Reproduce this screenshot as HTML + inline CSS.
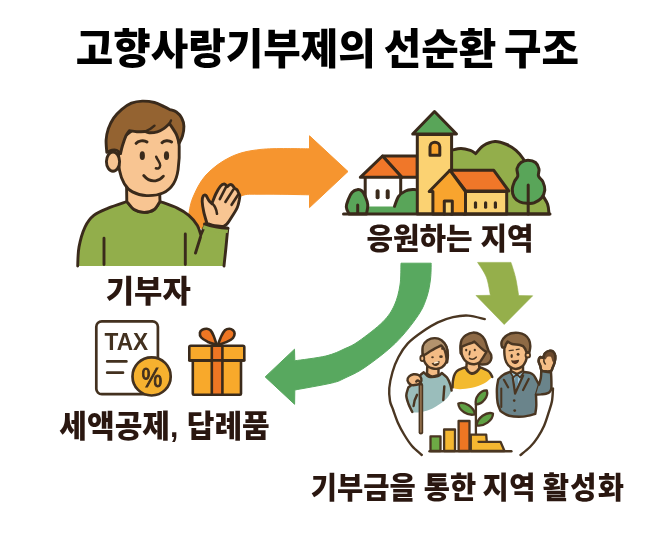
<!DOCTYPE html>
<html lang="ko">
<head>
<meta charset="utf-8">
<title>고향사랑기부제의 선순환 구조</title>
<style>
html,body{margin:0;padding:0;background:#fff;}
body{width:660px;height:534px;overflow:hidden;}
svg{display:block;will-change:transform;}
text{font-family:"Liberation Sans","Noto Sans CJK KR",sans-serif;font-weight:900;}
.title{fill:#000;font-size:40px;}
.lbl{fill:#2a1710;font-size:28px;}
.ln{fill:none;stroke:#3a2a1b;stroke-linecap:round;stroke-linejoin:round;}
.sh{stroke:#3a2a1b;stroke-linecap:round;stroke-linejoin:round;}
</style>
</head>
<body>
<svg width="660" height="534" viewBox="0 0 660 534">
<rect width="660" height="534" fill="#ffffff"/>
<g id="arrows">
<path d="M188.5 216C189.2 213 189.8 204.8 192.7 198C195.6 191.2 199.7 181.8 206 175C212.3 168.2 221.4 161.3 230.6 157C239.8 152.7 247.8 150.8 261 149.4C274.1 148 301.4 148.9 309.5 148.8L309.5 135.8L348 171.5L309.5 207.6L309.5 194.8C301.6 194.7 273.4 194 262 194.2C250.6 194.4 247.2 193.4 241 196C234.8 198.6 231 204 225 210C219 216 208.3 228.3 205 232Z" fill="#f6952f" stroke="#f6952f" stroke-width="1" stroke-linejoin="round"/>
<path d="M401 263.2L431.2 263.2C431.1 265.8 431.2 273.4 430.5 279C429.8 284.6 428.9 290.9 426.8 297C424.7 303.1 423.2 307.9 418 315.6C412.8 323.3 404.3 334.4 395.5 343C386.7 351.6 373.4 361.5 365 367.3C356.6 373.1 350.5 375.4 345 378C339.5 380.6 340.2 381 331.8 383C323.4 385 301 388.8 294.8 390L294.6 404.3L265.2 376.9L294.5 349.2L294.8 360.8C300 360 317.4 358 325.8 356C334.2 354 339.5 351.1 345 348.6C350.5 346.1 352.7 345.5 359 341C365.3 336.5 377.1 327.7 383 321.7C388.9 315.7 391.7 311.1 394.5 305C397.3 298.9 398.9 292 400 285C401.1 278 400.8 266.8 401 263.2Z" fill="#58a85f" stroke="#58a85f" stroke-width="1" stroke-linejoin="round"/>
<path d="M477.6 262.4L511 262.4C511.8 264.9 514.2 271.8 515.5 277.3C516.8 282.8 518.2 292.6 518.7 295.6L532.7 295.8L504.2 324.5L476 295.5L490.4 295.3C489.7 292.3 488.5 282.8 486.4 277.3C484.3 271.8 479.1 264.9 477.6 262.4Z" fill="#95af4b" stroke="#95af4b" stroke-width="0.6" stroke-linejoin="round"/>
</g>
<g id="person">
<path d="M77.7 266C77.9 262.8 77.8 253.5 79 247C80.2 240.5 82.6 232.1 85.1 226.8C87.6 221.5 89.9 218.4 93.8 215.3C97.7 212.2 102.7 210.4 108.2 208.1C113.7 205.8 123.8 202.6 126.9 201.5C128.1 202.8 131.2 207.7 134.1 209.5C137 211.3 140.8 212.4 144.2 212.4C147.5 212.4 151.6 211.3 154.2 209.5C156.8 207.7 159 202.8 160 201.5C162.9 202.6 172.5 205.8 177.3 208.1C182.1 210.4 185.5 212.4 188.8 215.3C192.2 218.2 195.4 222.1 197.4 225.4C199.4 228.7 200.2 233.4 200.8 235L205.5 224C207.2 224.6 212.3 226.6 216 227.3C219.7 228 225.8 228.1 227.8 228.3C227.5 231.4 226.6 240.7 226 247C225.4 253.3 224.3 262.8 224 266L77.7 266Z" fill="#92ae4b"/>
<path d="M77.7 266C77.9 262.8 77.8 253.5 79 247C80.2 240.5 82.6 232.1 85.1 226.8C87.6 221.5 89.9 218.4 93.8 215.3C97.7 212.2 102.7 210.4 108.2 208.1C113.7 205.8 123.8 202.6 126.9 201.5C128.1 202.8 131.2 207.7 134.1 209.5C137 211.3 140.8 212.4 144.2 212.4C147.5 212.4 151.6 211.3 154.2 209.5C156.8 207.7 159 202.8 160 201.5C162.9 202.6 172.5 205.8 177.3 208.1C182.1 210.4 185.5 212.4 188.8 215.3C192.2 218.2 195.4 222.1 197.4 225.4C199.4 228.7 200.2 233.4 200.8 235L205.5 224C207.2 224.6 212.3 226.6 216 227.3C219.7 228 225.8 228.1 227.8 228.3C227.5 231.4 226.6 240.7 226 247C225.4 253.3 224.3 262.8 224 266" fill="none" stroke="#3a2a1b" stroke-width="2.9" class="sh"/>
<path d="M126.6 187L126.8 201.5C128 202.8 131.2 207.7 134.1 209.5C137 211.3 140.8 212.4 144.2 212.4C147.5 212.4 151.6 211.3 154.2 209.5C156.8 207.7 159 202.8 160 201.5L159.6 190L126.6 187Z" fill="#f8c592" stroke="#3a2a1b" stroke-width="2.9" class="sh"/>
<path class="ln" stroke-width="2.9" d="M104 238.3V264.6M185.3 234V264.6M195.5 253L200.5 237"/>
<path d="M119.6 140C119.4 142.5 118.6 149.9 118.6 155C118.6 160.1 118.6 166 119.6 170.8C120.5 175.6 122.1 180.2 124.3 183.7C126.5 187.2 128.8 189.9 132.5 191.9C136.2 193.9 141.4 195.4 146.5 195.6C151.6 195.8 158.4 195 162.9 193C167.4 191 171 187.6 173.5 183.7C176 179.8 177.2 175.8 178.1 169.6C179 163.3 179.5 153.5 179.2 146.2C178.8 138.9 176.5 129.4 176 126C171.7 125 159.4 117.7 150 120C140.6 122.3 124.7 136.7 119.6 140Z" fill="#f8c592" stroke="#3a2a1b" stroke-width="2.9" class="sh"/>
<path d="M106.8 152.3C106.7 150.2 105.9 143.9 106.1 140C106.3 136.1 107 132.7 108.2 129.1C109.5 125.5 111.3 121.5 113.6 118.2C115.9 114.9 118.8 111.8 121.8 109.3C124.8 106.8 128 104.6 131.4 103.2C134.8 101.8 138.5 101.2 142.3 101.1C146.2 101 150.9 101.6 154.5 102.5C158.1 103.4 161.5 105.4 164.1 106.6C166.7 107.8 169 109.1 170 109.6C171.1 110 174.4 110.6 176.4 112C178.4 113.4 180.6 115.8 181.8 118.2C183.1 120.6 183.8 123.5 183.9 126.4C184 129.3 183.3 133.1 182.5 135.9C181.7 138.8 179.7 142.2 179.1 143.5C178.7 142 178 137.8 176.4 134.5C174.8 131.2 170.7 125.4 169.5 123.6C168.6 124.4 166.1 127 164.1 128.4C162.1 129.8 159.8 131.1 157.3 131.8C154.8 132.5 151.2 132.8 149.1 132.7C147 132.6 145.7 131.7 145 131.5C143.6 131.6 139.4 131.9 136.8 131.8C134.2 131.7 130.6 130.9 129.3 130.7C128.7 131.6 127 133.4 125.9 135.9C124.8 138.4 123.4 142.6 122.5 145.5C121.6 148.4 120.8 152.2 120.5 153.6C119.9 153.1 118.4 151.1 117 150.5C115.6 149.9 113.7 149.9 112 150.2C110.3 150.5 107.7 152 106.8 152.3Z" fill="#946331" stroke="#3a2a1b" stroke-width="2.9" class="sh"/>
<ellipse class="sh" cx="113" cy="161.6" rx="6.6" ry="9.6" fill="#f8c592" stroke-width="2.9"/>
<path class="ln" stroke-width="2.4" d="M145 131.5C149 130 152 128.3 154.5 125.7M169.5 123.6L171 120.4"/>
<path class="ln" stroke-width="3" d="M136.1 143.4C138 141 143.5 139.5 147 142M162 142.7C164 140.5 168.5 139.8 171.6 142"/>
<ellipse cx="142.3" cy="155.7" rx="2.6" ry="4.4" fill="#3a2a1b"/><ellipse cx="166.5" cy="155.7" rx="2.6" ry="4.4" fill="#3a2a1b"/>
<path class="ln" stroke-width="2.5" d="M156.2 156.7C157.5 160 160.5 163 160.2 165.5C160 168 158 169 155.9 168.3"/>
<path class="ln" stroke-width="2.8" d="M143.7 175.5C147 179.5 152 181.3 155.5 180.8C159 180.3 161.5 178.5 163.4 176.2"/>
<path d="M206.9 223.3C206.4 221.4 204.6 215.7 203.8 212.1C203 208.5 202.3 204.2 202.2 201.5C202.1 198.8 202.6 197 203.2 196C203.8 195 205 194.7 205.9 195.4C206.8 196.1 207.8 198.9 208.8 200.3C209.8 201.7 211.4 203.1 211.9 203.6C212.6 202 214.4 196.9 215.8 194C217.2 191.1 218.9 188 220.3 186.3C221.7 184.6 223.1 183.9 224.3 184C225.5 184.1 226.8 186.2 227.3 186.7C227.7 186.4 228.7 185.1 229.5 184.8C230.3 184.5 231.1 184.4 232 185C232.9 185.6 234.3 187.9 234.8 188.5C235.2 188.7 236.3 189 237 189.8C237.7 190.6 238.5 192.9 238.8 193.5C239 193.9 239.7 194.9 239.8 196C239.9 197.1 239.4 199.3 239.3 200C239 201.2 238.5 204.7 237.3 207.5C236.1 210.3 233.7 213.9 232 216.6C230.3 219.3 228.5 222.2 227.1 223.8C225.7 225.4 224.3 226 223.7 226.4C222.2 226.3 217.5 226.3 214.7 225.8C211.9 225.3 208.2 223.7 206.9 223.3Z" fill="#f8c592" stroke="#3a2a1b" stroke-width="2.9" class="sh"/>
<path class="ln" stroke-width="2.6" d="M226.5 186.2L219.8 199.2M233.3 189.6L225.4 202M237.8 195.2L231.6 204.8M211.9 203.1C214 205 216.4 208.1 217 213.8"/>
<path d="M204.2 224C206.2 224.6 212 226.6 216 227.3C220 228 226.2 228.1 228.3 228.3L227.5 233C225.4 232.8 219.2 232.7 215 232C210.8 231.3 204.6 229.5 202.5 229L204.2 224Z" fill="#92ae4b"/>
<path class="ln" stroke-width="2.9" d="M204.5 224C210 226 220 228 228 228.3"/>
</g>
<g id="village">
<path d="M451 214L451 150.4C452.7 150.1 457.8 148.5 461 148.5C464.2 148.5 467.9 149.6 470.4 150.4C472.8 151.2 474.8 153.1 475.7 153.6C476.9 152.3 480 147.7 483.2 145.7C486.4 143.7 491.1 141.7 495 141.5C498.9 141.3 503.2 143 506.7 144.5C510.2 146 513.3 148.1 516 150.4C518.7 152.7 520.2 154.4 523 158.5C525.8 162.6 529.9 169.1 533 175C536.1 180.9 539.4 188.8 541.8 193.7C544.2 198.6 546.4 200.8 547.6 204.2C548.8 207.6 548.8 212.4 549 214L451 214Z" fill="#93ae4b" stroke="#3a2a1b" stroke-width="3" class="sh"/>
<path d="M528 160.2C530.4 160.2 533.7 161 535.5 162.5C537.3 164 538.5 166.8 539 169C539.5 171.2 537.8 173.8 538.5 176C539.2 178.2 542 179.7 543 182C544 184.3 545 187.3 544.8 190C544.5 192.7 543.3 195.9 541.5 198C539.7 200.1 536.3 201.9 534 202.8C531.7 203.7 529.8 203.4 527.5 203.3C525.2 203.2 522.2 203.1 520 202C517.8 200.9 515.3 199.2 514 197C512.7 194.8 512.2 191.6 512.3 189C512.4 186.4 513.6 183.7 514.5 181.5C515.4 179.3 517.4 178.2 517.8 176C518.2 173.8 516.5 170.8 517 168.5C517.5 166.2 519.2 163.9 521 162.5C522.8 161.1 525.6 160.2 528 160.2Z" fill="#59a559" stroke="#3a2a1b" stroke-width="3" class="sh"/>
<path class="ln" stroke-width="3" d="M528.2 185V214"/>
<path d="M365.2 177.5V212M400.7 177.5V198" fill="#ffffff" stroke="#3a2a1b" stroke-width="3" class="sh"/>
<path d="M382.5 156H417.3V177.3H401.8Z" fill="#f07729" stroke="#3a2a1b" stroke-width="3" class="sh"/>
<path d="M382.5 156L401.8 177.3H360.3Z" fill="#f07729" stroke="#3a2a1b" stroke-width="3" class="sh"/>
<rect x="375.6" y="189.3" width="4" height="10" rx="1.8" fill="#3a2a1b"/><rect x="385.7" y="189.3" width="4" height="10" rx="1.8" fill="#3a2a1b"/>
<path d="M364 214L364 206.6L394.5 206.6C395.2 204.9 396.8 199 398.6 196.4C400.4 193.8 403 192.2 405.5 191C408 189.8 411.6 189.7 413.6 189.5C415.6 189.3 416.7 189.9 417.3 190L417.3 214L364 214Z" fill="#59a559"/>
<path d="M394.5 206.3C395.2 204.7 396.8 199 398.6 196.4C400.4 193.8 403 192.2 405.5 191C408 189.8 411.6 189.7 413.6 189.5C415.6 189.3 416.7 189.9 417.3 190" fill="none" stroke="#3a2a1b" stroke-width="3" class="sh"/>
<path d="M349 214C348.6 212.8 346.4 209.5 346.3 207C346.2 204.5 347.6 201.4 348.5 199C349.4 196.6 350.6 194.1 352 192.5C353.4 190.9 355.3 189.9 357 189.7C358.7 189.4 360.6 189.8 362 191C363.4 192.2 364.5 194.7 365.5 197C366.5 199.3 367.6 202.2 367.8 205C368 207.8 366.7 212.5 366.5 214L349 214Z" fill="#59a559" stroke="#3a2a1b" stroke-width="3" class="sh"/>
<path class="ln" stroke-width="3" d="M357.7 205V213"/>
<path d="M417.3 134.5H451.6V214H417.3Z" fill="#fbd272" stroke="#3a2a1b" stroke-width="3" class="sh"/>
<path d="M434.5 111.5L456.5 134H412.7Z" fill="#59a559" stroke="#3a2a1b" stroke-width="3" class="sh"/>
<path d="M430 155.3V146.8C430 140.6 439.8 140.6 439.8 146.8V155.3Z" fill="#f8a42e" stroke="#3a2a1b" stroke-width="3" class="sh"/>
<path d="M464 191.5H506.7V214H464Z" fill="#fbd272" stroke="#3a2a1b" stroke-width="3" class="sh"/>
<path d="M450 170.3H493.8L508.8 191H465.7Z" fill="#f07729" stroke="#3a2a1b" stroke-width="3" class="sh"/>
<path d="M450 170.3L465.5 191.5V214H432.9V191.5H429.2Z" fill="#f8a42e" stroke="#3a2a1b" stroke-width="3" class="sh"/>
<path d="M444.3 214V201H452.3V214" fill="#fbd272" stroke="#3a2a1b" stroke-width="3" class="sh"/>
<rect x="473.9" y="201.2" width="3.2" height="7.6" rx="1.6" fill="#3a2a1b"/>
<rect x="484" y="201.2" width="3.2" height="7.6" rx="1.6" fill="#3a2a1b"/>
<rect x="493.8" y="201.2" width="3.2" height="7.6" rx="1.6" fill="#3a2a1b"/>
<path class="ln" stroke-width="3" d="M343.5 214H550"/>
</g>
<g id="taxgift">
<rect x="96.3" y="321.3" width="61.6" height="72.9" rx="5.5" fill="#ffffff" stroke="#43311f" stroke-width="2.7"/>
<text x="104.5" y="349.5" textLength="43.6" lengthAdjust="spacingAndGlyphs" style="font-family:'Liberation Sans',sans-serif;font-weight:700;font-size:23.4px;fill:#43311f">TAX</text>
<path class="ln" style="stroke:#43311f" stroke-width="2.7" d="M107.2 361.4H126.4M107.2 372.7H123"/>
<circle cx="151.6" cy="376.4" r="19.5" fill="#ffffff"/>
<circle cx="151.6" cy="376.4" r="19.1" fill="#f6b12f" stroke="#43311f" stroke-width="2.7"/>
<text transform="translate(151.8 386.5) scale(0.953 1.116)" x="0" y="0" text-anchor="middle" style="font-family:'Liberation Sans',sans-serif;font-weight:400;font-size:24.5px;fill:#43311f;stroke:#43311f;stroke-width:0.9px">%</text>
<path d="M216.7 345C215.2 344.4 210.1 342.9 207.5 341.7C204.9 340.4 202.5 339 201.2 337.5C199.9 336 199.7 334 199.9 332.7C200.1 331.4 201.3 330.4 202.5 329.7C203.7 329 205.5 328.6 206.9 328.7C208.3 328.8 209.6 329.3 210.7 330.5C211.8 331.7 212.7 333.6 213.7 336C214.7 338.4 216.2 343.5 216.7 345Z" fill="#ee7623" stroke="#3a2a1b" stroke-width="2.6" class="sh"/>
<path d="M217.8 345C219.4 344.4 224.8 342.9 227.3 341.7C229.8 340.5 231.8 339.4 233 338C234.2 336.6 234.6 334.8 234.6 333.5C234.6 332.2 233.9 331.1 233 330.3C232.1 329.5 230.7 328.7 229.4 328.7C228.1 328.7 226.3 329 225 330.2C223.7 331.4 222.6 333.5 221.4 336C220.2 338.5 218.4 343.5 217.8 345Z" fill="#ee7623" stroke="#3a2a1b" stroke-width="2.6" class="sh"/>
<rect class="sh" x="192.8" y="360.4" width="48.2" height="34.3" rx="1" fill="#f8a92b" stroke-width="2.6"/>
<rect class="sh" x="189.3" y="345.8" width="55" height="14.6" rx="1.5" fill="#f8a92b" stroke-width="2.6"/>
<rect class="sh" x="211.8" y="345.8" width="10.6" height="48.9" fill="#ee7623" stroke-width="2.6"/>
<path class="ln" stroke-width="2.6" d="M189.3 360.4H244.3"/>
</g>
<g id="community">
<path d="M484.8 319.1C482 318.5 473.5 315.9 468.2 315.6C462.9 315.3 458.1 316 453 317.1C447.9 318.2 442.9 320 437.9 322.4C432.8 324.8 427.8 328 422.7 331.5C417.6 335 411.6 339.4 407.6 343.6C403.6 347.9 401 352.3 398.5 357C396 361.7 394 366.8 392.5 372C391 377.2 389.7 383.2 389.3 388C388.9 392.8 389.4 397.3 390 401C390.6 404.7 391.9 406.3 393.2 410C394.5 413.7 396.2 418.9 398 423C399.8 427.1 401.8 430.7 404.1 434.5C406.4 438.3 409.1 442.6 412 446C414.9 449.4 420.2 453.5 421.8 455" fill="none" stroke="#4a3622" stroke-width="2.4" stroke-linecap="round" stroke-linejoin="round"/>
<path d="M553 388.5C552.8 390.6 552.7 397 552 401C551.3 405 549.9 408.5 548.6 412.7C547.3 416.9 545.8 421.9 544 426C542.2 430.1 540 433.8 537.7 437.3C535.4 440.8 532.9 444.1 530 447C527.1 449.9 522.1 453.7 520.5 455" fill="none" stroke="#4a3622" stroke-width="2.4" stroke-linecap="round" stroke-linejoin="round"/>
<path d="M412.3 412.5C411.7 411.1 409.5 406.8 408.5 404C407.5 401.2 406.3 398.2 406.3 395.5C406.3 392.8 408 388.8 408.3 387.5C409.6 386.4 414.1 383 416 381C417.9 379 418.7 376.9 420 375.5C421.3 374.1 423.2 372.8 423.8 372.3C424.7 373.1 426.6 376.2 429 376.8C431.4 377.4 435.9 376.6 438 376C440.1 375.4 441.2 373.5 441.8 373C442.7 373.8 445.6 375.6 447 377.5C448.4 379.4 449.5 382.3 450.3 384.5C451.1 386.7 451.4 389.5 451.6 390.5C451 391.6 449.4 395.2 448 397C446.6 398.8 445.4 399.9 443.4 401.5C441.4 403.1 438.4 405.1 436 406.5C433.6 407.9 431.5 409 428.8 410C426.1 411 422.8 411.9 420 412.3C417.2 412.7 413.2 412.5 411.9 412.5Z" fill="#9abdbb"/>
<path d="M412.3 412C411.7 410.7 409.5 406.8 408.5 404C407.5 401.2 406.3 398.2 406.3 395.5C406.3 392.8 408 388.8 408.3 387.5C409.6 386.4 414.1 383 416 381C417.9 379 418.7 376.9 420 375.5C421.3 374.1 423.2 372.8 423.8 372.3C424.7 373.1 426.6 376.2 429 376.8C431.4 377.4 435.9 376.6 438 376C440.1 375.4 441.2 373.5 441.8 373C442.7 373.8 445.6 375.6 447 377.5C448.4 379.4 449.5 382.3 450.3 384.5C451.1 386.7 451.4 389.5 451.6 390.5" fill="none" stroke="#4a3622" stroke-width="2.45" stroke-linecap="round" stroke-linejoin="round"/>
<path d="M444.3 386.5L443.3 400M417 394.8C415.5 397.5 414 401.5 413.6 406" fill="none" stroke="#4a3622" stroke-width="2.45" stroke-linecap="round" stroke-linejoin="round"/>
<path d="M427.3 366L427 373.5C427.8 374 430.1 376.2 432 376.5C433.9 376.8 437.4 375.2 438.5 375L438.5 366L427.3 366Z" fill="#f3bb84" stroke="#4a3622" stroke-width="2.45" stroke-linecap="round" stroke-linejoin="round"/>
<path d="M434.7 338.6C436.9 338.6 439.6 339.4 441.5 340.7C443.4 342 445.2 344.1 446.2 346.5C447.2 348.9 447.6 352.3 447.6 355C447.6 357.7 446.9 360.6 446 362.6C445.1 364.7 443.4 366.3 442 367.3C440.6 368.3 439.1 368.6 437.4 368.8C435.7 369 433.6 368.7 432 368.3C430.4 367.9 429.2 367.4 428 366.3C426.8 365.2 425.4 363.8 424.5 361.7C423.6 359.6 423 356.6 422.9 354C422.8 351.4 422.8 348.2 423.7 346C424.6 343.8 426.2 341.9 428 340.7C429.8 339.5 432.4 338.6 434.7 338.6Z" fill="#f3bb84" stroke="#4a3622" stroke-width="2.45" stroke-linecap="round" stroke-linejoin="round"/>
<path d="M422.7 355.2C422.7 353.7 422.1 348.5 422.9 346C423.7 343.5 425.5 341.5 427.5 340.2C429.5 338.9 432.4 338.1 434.7 338.1C437 338.1 439.6 338.8 441.5 340.2C443.4 341.6 445.3 344 446.4 346.5C447.5 349 447.8 352.3 447.9 355C448 357.7 447.2 361.2 447.1 362.5C446.9 361.1 446.3 356.2 445.8 354C445.3 351.8 445.1 350.9 444.3 349.5C443.6 348.1 441.8 346.2 441.3 345.5C440.8 345.7 439.4 346.3 438.3 346.8C437.2 347.3 436.2 347.8 434.7 348.6C433.2 349.4 430.8 350.9 429.3 351.8C427.8 352.8 426.6 353.7 425.5 354.3C424.4 354.9 423.2 355.1 422.7 355.2Z" fill="#b3936d" stroke="#4a3622" stroke-width="2.45" stroke-linecap="round" stroke-linejoin="round"/>
<ellipse cx="422.3" cy="358.3" rx="2" ry="2.8" fill="#f3bb84" stroke="#4a3622" stroke-width="1.8"/>
<ellipse cx="432.5" cy="357.3" rx="1.3" ry="1" fill="#4a3622"/><ellipse cx="441" cy="356.7" rx="1.8" ry="1.4" fill="#4a3622"/>
<circle cx="442.2" cy="348.8" r="1.1" fill="#4a3622"/>
<path d="M432.3 363.5C434.5 363.3 437 362.8 439 361.5C439.3 365 435 367.3 432.3 363.5Z" fill="#5a3a1e" stroke="#4a3622" stroke-width="1.1" stroke-linejoin="round"/>
<path d="M434.5 363L438 362.1" fill="none" stroke="#fff1d8" stroke-width="1.3" stroke-linecap="round"/>
<path d="M420.9 385V432.3" fill="none" stroke="#4a3622" stroke-width="4.6" stroke-linecap="round"/>
<path d="M420.9 386V432" fill="none" stroke="#9b7650" stroke-width="1.5" stroke-linecap="round"/>
<path d="M407.5 380.5C407.2 379.1 408 377.5 409 376.5C410 375.5 411.9 374.6 413.5 374.3C415.1 374.1 417.2 374.3 418.5 375C419.8 375.7 421 377.2 421.3 378.5C421.6 379.8 421.3 381.9 420.5 383C419.7 384.1 418.1 384.5 416.5 384.8C414.9 385.1 412.5 385.5 411 384.8C409.5 384.1 407.8 381.9 407.5 380.5Z" fill="#f3bb84" stroke="#4a3622" stroke-width="2.45" stroke-linecap="round" stroke-linejoin="round"/>
<path d="M416.3 381.5C417.5 380 419.5 380.3 420 382.5" fill="none" stroke="#4a3622" stroke-width="2.45" stroke-linecap="round" stroke-linejoin="round"/>
<path d="M452.5 388C452.6 387 452.6 384 452.8 382C453.1 380 453.4 377.8 454 376C454.6 374.2 455.5 372.6 456.5 371.5C457.5 370.4 458.5 370 460 369.3C461.5 368.6 464.4 367.6 465.3 367.3C465.8 368 466.9 370.4 468 371.5C469.1 372.6 470.4 373.7 471.8 373.8C473.2 373.9 475.1 373.1 476.5 372C477.9 370.9 479.7 368.1 480.3 367.3C481.6 367.9 486.1 369.8 487.8 370.8C489.5 371.8 489.8 372.5 490.5 373.5C491.2 374.5 492 376.4 492.3 377C490.9 378.1 487.4 381.7 484 383.5C480.6 385.3 476 386.8 472 387.7C468 388.6 463.2 389.1 460 389.2C456.8 389.2 453.8 388.2 452.5 388Z" fill="#f3ba2f"/>
<path d="M452.5 387.5C452.6 386.6 452.6 383.9 452.8 382C453.1 380.1 453.4 377.8 454 376C454.6 374.2 455.5 372.6 456.5 371.5C457.5 370.4 458.5 370 460 369.3C461.5 368.6 464.4 367.6 465.3 367.3C465.8 368 466.9 370.4 468 371.5C469.1 372.6 470.4 373.7 471.8 373.8C473.2 373.9 475.1 373.1 476.5 372C477.9 370.9 479.7 368.1 480.3 367.3C481.6 367.9 486.1 369.8 487.8 370.8C489.5 371.8 489.8 372.5 490.5 373.5C491.2 374.5 492 376.4 492.3 377" fill="none" stroke="#4a3622" stroke-width="2.45" stroke-linecap="round" stroke-linejoin="round"/>
<path d="M460.6 353C460.6 351.8 460.2 348.2 460.4 346C460.6 343.8 460.8 341.5 461.7 339.7C462.6 337.9 463.9 336.4 465.8 335.2C467.7 334 470.6 332.7 473 332.6C475.4 332.5 478.2 333.3 480.2 334.5C482.1 335.7 483.6 337.8 484.7 339.7C485.8 341.6 486.3 344.2 486.9 346C487.5 347.8 488.2 349.8 488.5 350.5C488.9 351.2 490.8 353.4 491.2 355C491.6 356.6 491.4 358.9 490.8 360.4C490.2 361.9 488.9 363.1 487.4 363.8C485.9 364.5 483.9 364.4 482 364.4C480.1 364.4 477 364.1 476 364C474.3 363.3 468.6 361.8 466 360C463.4 358.2 461.5 354.2 460.6 353Z" fill="#8e6a46" stroke="#4a3622" stroke-width="2.45" stroke-linecap="round" stroke-linejoin="round"/>
<path d="M466.8 362L466.3 368C466.7 368.6 467.6 370.6 468.5 371.5C469.4 372.4 470.6 373.2 471.8 373.3C473.1 373.4 474.8 372.7 476 371.8C477.2 370.9 478.8 368.6 479.3 368L478.8 361L466.8 362Z" fill="#f5be87" stroke="#4a3622" stroke-width="2.45" stroke-linecap="round" stroke-linejoin="round"/>
<path d="M461.7 346.9C461.7 347.8 461.4 350.5 461.5 352C461.6 353.5 461.8 354.6 462.4 356C463 357.4 463.7 359.1 464.9 360.4C466.1 361.6 467.8 362.9 469.4 363.5C471 364.1 472.6 364.3 474.3 364.2C476 364.1 478 363.5 479.3 362.6C480.6 361.7 481.1 360.4 482.3 358.6C483.5 356.8 485.8 352.9 486.5 351.8C485.9 351.4 484.2 350.7 482.9 349.6C481.5 348.6 479.8 346.9 478.4 345.5C477 344.1 475 342.2 474.3 341.5C473.9 341.7 473.4 342.3 472.1 342.8C470.8 343.3 468.4 343.9 466.7 344.6C465 345.3 462.5 346.5 461.7 346.9Z" fill="#f5be87" stroke="#4a3622" stroke-width="2.45" stroke-linecap="round" stroke-linejoin="round"/>
<ellipse cx="466.2" cy="350.1" rx="1.1" ry="1.3" fill="#4a3622"/><ellipse cx="474.8" cy="350" rx="1.1" ry="1.3" fill="#4a3622"/>
<path d="M469.9 351.3L469.3 354.6" fill="none" stroke="#4a3622" stroke-width="1.7" stroke-linecap="round" stroke-linejoin="round"/>
<path d="M469.6 358.3C471.5 359.6 474.3 359.2 476.2 357.2" fill="none" stroke="#4a3622" stroke-width="1.6" stroke-linecap="round" stroke-linejoin="round"/>
<path d="M540.3 366C539.7 364.4 538.6 362.5 538.6 361C538.6 359.5 539.3 357.8 540 357.2C540.7 356.6 542.2 358.2 543 357.6C543.8 357 544 354.4 545 353.3C546 352.2 547.6 351.1 549 350.9C550.4 350.6 552.2 350.9 553.3 351.8C554.3 352.7 555.1 354.2 555.3 356C555.5 357.8 555.1 360.5 554.6 362.5C554.1 364.5 553.2 366.5 552.5 368C551.8 369.5 552.2 370.8 550.5 371.3C548.8 371.8 543.7 371.7 542 370.8C540.3 369.9 540.9 367.6 540.3 366Z" fill="#f5be87" stroke="#4a3622" stroke-width="2.45" stroke-linecap="round" stroke-linejoin="round"/>
<path d="M545.2 353.5C546 352.5 547.7 351.4 549 351.2C550.3 350.9 552 351.2 553 352C554 352.8 554.8 354.5 555 356C555.2 357.5 554.8 360.1 554.4 361C554 361.9 553.1 362.2 552.5 361.5C551.9 360.8 551.8 357.8 551 357C550.2 356.2 548.4 356.4 547.5 356.8C546.6 357.2 546 359.5 545.5 359.5C545 359.5 544.3 358 544.3 357C544.2 356 544.4 354.5 545.2 353.5Z" fill="#6b4a2e"/>
<path d="M540.3 366C539.7 364.4 538.6 362.5 538.6 361C538.6 359.5 539.3 357.8 540 357.2C540.7 356.6 542.2 358.2 543 357.6C543.8 357 544 354.4 545 353.3C546 352.2 547.6 351.1 549 350.9C550.4 350.6 552.2 350.9 553.3 351.8C554.3 352.7 555.1 354.2 555.3 356C555.5 357.8 555.1 360.5 554.6 362.5C554.1 364.5 553.2 366.5 552.5 368C551.8 369.5 552.2 370.8 550.5 371.3C548.8 371.8 543.7 371.7 542 370.8C540.3 369.9 540.9 367.6 540.3 366Z" fill="none" stroke="#4a3622" stroke-width="2.45" stroke-linecap="round" stroke-linejoin="round"/>
<path d="M544.3 357.5C543.5 360 543.8 362.5 545.3 364" fill="none" stroke="#4a3622" stroke-width="1.6" stroke-linecap="round" stroke-linejoin="round"/>
<path d="M510 371.9C508.9 372.4 505.3 373.4 503.4 374.7C501.4 375.9 499.1 378.6 498.3 379.4C498.1 380.9 497 384.8 496.9 388.7C496.8 392.6 497 399.1 497.6 402.8C498.2 406.6 500.1 409.8 500.6 411.2C502 411.9 505.2 414.8 509 415.7C512.8 416.6 518.7 416.9 523.1 416.6C527.5 416.3 533.3 414.3 535.3 413.8C535.5 412.4 536.2 408.8 536.3 405.6C536.4 402.4 536 396.4 536 394.6L539 384.6C538.5 383.7 536.9 380.6 536 379C535.1 377.4 534.5 376 533.5 375C532.5 374 531.6 373.3 530 372.8C528.4 372.3 525 372 524 371.9C522.8 372.3 519.3 374.5 517 374.5C514.7 374.5 511.2 372.3 510 371.9Z" fill="#6a848b" stroke="#4a3622" stroke-width="2.45" stroke-linecap="round" stroke-linejoin="round"/>
<path d="M539 384.6C539.3 383.5 540.4 380.3 540.8 378C541.2 375.7 541.2 372 541.3 370.8C542.1 371 544.4 371.6 546 371.8C547.6 372.1 550.2 372.2 551 372.3C551.1 373.8 551.4 378.3 551.4 381C551.4 383.7 551.6 386.6 551.3 388.5C551 390.4 550.4 391.3 549.5 392.2C548.6 393.1 547.4 393.3 546 393.7C544.6 394.1 542.7 394.2 541 394.4C539.3 394.5 536.8 394.6 536 394.6L539 384.6Z" fill="#6a848b"/>
<path d="M539 384.6C539.3 383.5 540.4 380.3 540.8 378C541.2 375.7 541.2 372 541.3 370.8C542.1 371 544.4 371.6 546 371.8C547.6 372.1 550.2 372.2 551 372.3C551.1 373.8 551.4 378.3 551.4 381C551.4 383.7 551.6 386.6 551.3 388.5C551 390.4 550.4 391.3 549.5 392.2C548.6 393.1 547.4 393.3 546 393.7C544.6 394.1 542.7 394.2 541 394.4C539.3 394.5 536.8 394.6 536 394.6" fill="none" stroke="#4a3622" stroke-width="2.45" stroke-linecap="round" stroke-linejoin="round"/>
<path d="M511.5 371.5L515.1 393L523.5 371.5L517 367Z" fill="#9cc6da"/>
<path d="M515.6 374.5L517.8 374.5L518 383L515.6 392L514.8 383Z" fill="#6d93a3"/>
<path d="M512.8 377.5L515.1 393.5L523.1 375.6" fill="none" stroke="#4a3622" stroke-width="2.3" stroke-linecap="round" stroke-linejoin="round"/>
<path d="M510 371.9L513.5 377.5L516.8 374L520 377.5L524 371.9" fill="none" stroke="#4a3622" stroke-width="1.7" stroke-linecap="round" stroke-linejoin="round"/>
<path d="M503.9 379.8L508.1 387.3M528.7 378.9L523.1 390.1" fill="none" stroke="#4a3622" stroke-width="2.2" stroke-linecap="round" stroke-linejoin="round"/>
<circle cx="514.2" cy="400.6" r="1.3" fill="#4a3622"/><circle cx="514.7" cy="410.6" r="1.4" fill="#4a3622"/>
<path d="M501.3 388.5L501.3 407" fill="none" stroke="#4a3622" stroke-width="2" stroke-linecap="round" stroke-linejoin="round"/>
<path d="M511 363V371L517 374L523 371V363Z" fill="#f5be87" stroke="#4a3622" stroke-width="2.45" stroke-linecap="round" stroke-linejoin="round"/>
<path d="M505 345C503.9 347.4 504.3 352.1 504.5 355C504.7 357.9 505.3 360.2 506.3 362.2C507.3 364.2 508.8 366 510.4 367.1C512 368.2 513.8 369.1 515.8 369C517.8 368.9 520.5 367.8 522.1 366.5C523.8 365.2 524.9 363.2 525.7 361.3C526.5 359.4 526.8 357.6 526.8 355C526.8 352.4 527.1 348.4 526 346C524.9 343.6 522.5 341.4 520 340.5C517.5 339.6 513.5 339.8 511 340.5C508.5 341.2 506.1 342.6 505 345Z" fill="#f5be87" stroke="#4a3622" stroke-width="2.45" stroke-linecap="round" stroke-linejoin="round"/>
<circle cx="527.8" cy="355.2" r="2.3" fill="#f5be87" stroke="#4a3622" stroke-width="1.8"/>
<path d="M505 347C504.6 347.1 502.9 348.2 502.3 347.3C501.8 346.4 501.2 343.3 501.7 341.5C502.2 339.7 503.7 337.9 505.3 336.5C506.9 335.1 509.1 333.9 511.3 333.3C513.5 332.7 516.2 332.6 518.5 332.9C520.8 333.2 523 333.9 524.8 335C526.5 336.1 528.1 337.9 529 339.7C529.9 341.5 530.2 343.9 530.3 346C530.4 348.1 529.5 351.2 529.4 352.3C528.9 352.2 527.2 352.6 526.5 352C525.8 351.4 525.8 350 525.2 349C524.6 348 523.4 346.5 523 346C522.2 345.8 520.3 345.1 518.5 344.8C516.7 344.5 514 344.6 512.2 344C510.4 343.4 508.4 341.9 507.7 341.5C507.4 341.9 506.4 343.1 506 344C505.6 344.9 505.2 346.5 505 347Z" fill="#8e6a45" stroke="#4a3622" stroke-width="2.45" stroke-linecap="round" stroke-linejoin="round"/>
<ellipse cx="511.7" cy="356" rx="1.2" ry="2" fill="#4a3622"/><ellipse cx="518.1" cy="354.3" rx="1.4" ry="1.5" fill="#4a3622"/>
<path d="M509.2 350.7L513.3 350.2M516.3 349.6L519.2 349.1" fill="none" stroke="#4a3622" stroke-width="1.3" stroke-linecap="round" stroke-linejoin="round"/>
<path d="M511.7 360.8C514 361.3 516.5 361 518.5 360.2C518 363.8 513.3 365 511.7 360.8Z" fill="#6a2f1c" stroke="#4a3622" stroke-width="1.1" stroke-linejoin="round"/>
<path d="M475.9 435V404" fill="none" stroke="#4a3622" stroke-width="2.3" stroke-linecap="round" stroke-linejoin="round"/>
<path d="M475.9 404.5C482.8 404.2 488.8 396.4 486.8 390.3C480.4 389.9 474.4 397.7 475.9 404.5Z" fill="#5fa144" stroke="#4a3622" stroke-width="2.3" stroke-linecap="round" stroke-linejoin="round"/>
<path d="M475 414.3C473.9 406.9 464.7 401 458.3 403.5C458.6 410.4 467.8 416.3 475 414.3Z" fill="#5fa144" stroke="#4a3622" stroke-width="2.3" stroke-linecap="round" stroke-linejoin="round"/>
<path d="M476.5 425.3C483.9 426.9 493 420.4 493 413.5C486.4 411.3 477.4 417.8 476.5 425.3Z" fill="#5fa144" stroke="#4a3622" stroke-width="2.3" stroke-linecap="round" stroke-linejoin="round"/>
<path d="M430.5 436.4H440.5V451H430.5Z" fill="#6daa45" stroke="#4a3622" stroke-width="2.3" stroke-linecap="round" stroke-linejoin="round"/>
<path d="M444.1 429.5H455V451H444.1Z" fill="#f5b731" stroke="#4a3622" stroke-width="2.3" stroke-linecap="round" stroke-linejoin="round"/>
<path d="M458.6 421H469.5V451H458.6Z" fill="#ee7623" stroke="#4a3622" stroke-width="2.3" stroke-linecap="round" stroke-linejoin="round"/>
<path d="M470.8 434.6H486.2L486.8 441.8H500.5L504.5 451H470.8Z" fill="#f5b731" stroke="#4a3622" stroke-width="2.3" stroke-linecap="round" stroke-linejoin="round"/>
<path d="M478.5 441.8H487" fill="none" stroke="#4a3622" stroke-width="2.3" stroke-linecap="round" stroke-linejoin="round"/>
<path d="M429.5 451.3H511.4" fill="none" stroke="#4a3622" stroke-width="2.4" stroke-linecap="round" stroke-linejoin="round"/>
</g>
<g id="labels">
<text class="title" transform="translate(75.87 63.6) scale(1.019 1.0411)" x="0" y="0" word-spacing="-3.3">고향사랑기부제의 선순환 구조</text>
<text class="lbl" transform="translate(105.7 302.1) scale(1.101 1.0895)" x="0" y="0">기부자</text>
<text class="lbl" transform="translate(366.47 248.91) scale(1.0306 1.0514)" x="0" y="0">응원하는 지역</text>
<text class="lbl" transform="translate(59.26 436.8) scale(1.0751 1.0895)" x="0" y="0">세액공제, 답례품</text>
<text class="lbl" transform="translate(310.78 498.04) scale(1.0193 1.0755)" x="0" y="0">기부금을 통한 <tspan dx="-1.6">지</tspan><tspan dx="0.4">역</tspan> <tspan dx="-0.6" letter-spacing="1.2">활성화</tspan></text>
</g>
</svg>
</body>
</html>
